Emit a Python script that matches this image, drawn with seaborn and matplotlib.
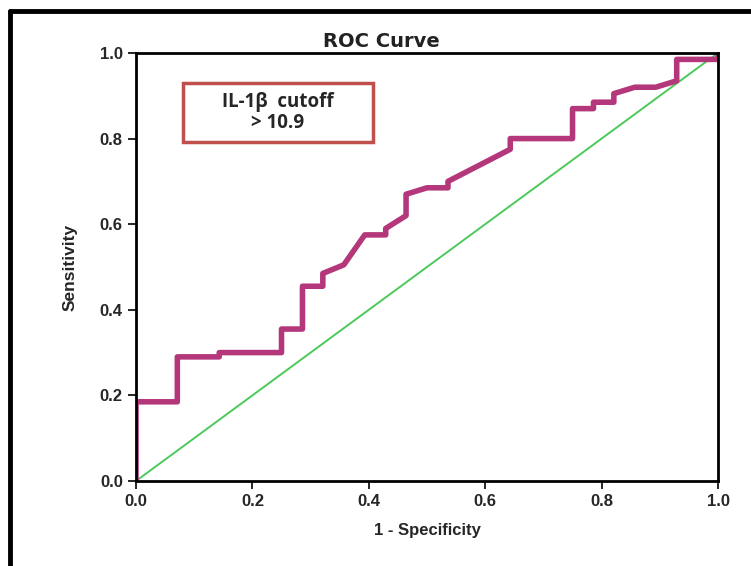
import matplotlib
matplotlib.use("Agg")
import matplotlib.pyplot as plt
import seaborn as sns
import pandas as pd
from matplotlib.patches import FancyBboxPatch
from matplotlib.lines import Line2D

# ROC curve points
fpr = [0, 0, 0.071, 0.071, 0.143, 0.143, 0.25, 0.25, 0.286, 0.286, 0.321, 0.321,
       0.357, 0.393, 0.429, 0.429, 0.464, 0.464, 0.5, 0.536, 0.536, 0.643, 0.643,
       0.75, 0.75, 0.786, 0.786, 0.821, 0.821, 0.857, 0.893, 0.929, 0.929, 1.0, 1.0]
tpr = [0, 0.185, 0.185, 0.29, 0.29, 0.30, 0.30, 0.355, 0.355, 0.455, 0.455, 0.485,
       0.505, 0.575, 0.575, 0.59, 0.62, 0.67, 0.685, 0.685, 0.70, 0.775, 0.80,
       0.80, 0.87, 0.87, 0.885, 0.885, 0.905, 0.92, 0.92, 0.935, 0.985, 0.985, 1.0]
ref_x = [0, 1]
ref_y = [0, 1]
ticks = [0.0, 0.2, 0.4, 0.6, 0.8, 1.0]
tick_labels = ["0.0", "0.2", "0.4", "0.6", "0.8", "1.0"]

sns.set_style("ticks")
plt.rcParams['font.family'] = ['Liberation Sans', 'DejaVu Sans']

roc = pd.DataFrame({'fpr': fpr, 'tpr': tpr})
ref = pd.DataFrame({'x': ref_x, 'y': ref_y})

fig = plt.figure(figsize=(7.51, 5.66), dpi=100)
ax = fig.add_axes([0.1811, 0.1502, 0.7750, 0.7562])

sns.lineplot(data=ref, x='x', y='y', color='#4cc95a', linewidth=1.4, ax=ax)
sns.lineplot(data=roc, x='fpr', y='tpr', sort=False, estimator=None,
             color='#b5377b', linewidth=4, ax=ax)

ax.set_xlim(0, 1)
ax.set_ylim(0, 1)
ax.set_xticks(ticks)
ax.set_yticks(ticks)
ax.set_xticklabels(tick_labels, fontsize=12, fontweight='bold')
ax.set_yticklabels(tick_labels, fontsize=12, fontweight='bold')
ax.tick_params(direction='out', length=6, width=1.2, color='black')
for s in ax.spines.values():
    s.set_visible(True)
    s.set_linewidth(2)
    s.set_color('black')

# title sits a bit left of the axes centre in the original
ax.text(0.421, 1.005, "ROC Curve", transform=ax.transAxes, ha='center', va='bottom',
        fontsize=14, fontweight='bold', color='#222222', family=['DejaVu Sans'])
ax.set_xlabel("1 - Specificity", fontsize=12, fontweight='bold', labelpad=10)
ax.set_ylabel("Sensitivity", fontsize=12.5, fontweight='bold', labelpad=16)

# cutoff box
box = FancyBboxPatch((0.0807, 0.791), 0.3265, 0.140, boxstyle='square,pad=0',
                     transform=ax.transAxes, facecolor='white',
                     edgecolor='#c0504d', linewidth=2.5, zorder=5)
ax.add_patch(box)
ax.text(0.2437, 0.861, "IL-1β  cutoff\n> 10.9", transform=ax.transAxes,
        ha='center', va='center', fontsize=13.5, fontweight='bold',
        family=['Open Sans', 'DejaVu Sans'], linespacing=1.12, zorder=6)

# outer frame
fig.add_artist(Line2D([10 / 751, 10 / 751], [0, 1 - 11 / 566], transform=fig.transFigure,
                      color='black', linewidth=3.5))
fig.add_artist(Line2D([10 / 751, 1], [1 - 11 / 566, 1 - 11 / 566], transform=fig.transFigure,
                      color='black', linewidth=3.5))

fig.savefig("out.png", dpi=100)
